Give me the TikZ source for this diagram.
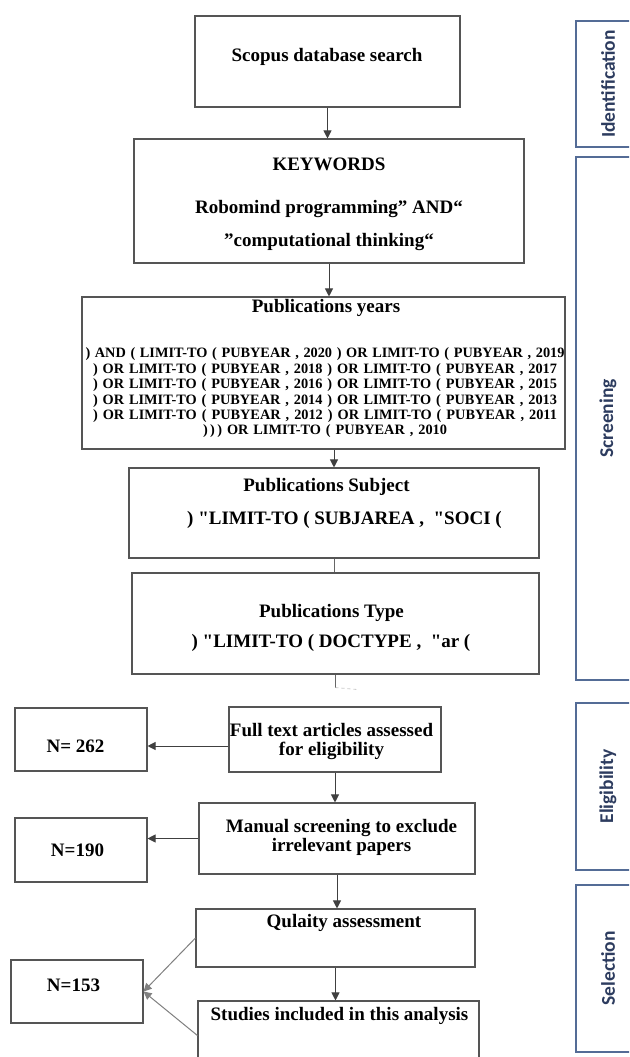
\documentclass[tikz,border=0pt]{standalone}
\usepackage{fontspec}
\setmainfont{Liberation Serif}
\newfontfamily\phasefont{Carlito}
\usepackage{tikz}
\usetikzlibrary{arrows.meta,positioning}

\definecolor{phaseblue}{RGB}{84,108,150}
\definecolor{phasetext}{RGB}{45,60,95}
\definecolor{boxgray}{RGB}{85,85,85}

% stretched query line
\newcommand{\qryline}[2]{\makebox[#1][s]{#2}}

\begin{document}
\begin{tikzpicture}[x=1pt,y=-1pt,
  box/.style={draw=boxgray,line width=1.1pt,inner sep=0pt},
  phase/.style={draw=phaseblue,line width=1.4pt,minimum width=64pt,inner sep=0pt},
  phaselbl/.style={rotate=90,text=phasetext,font=\fontsize{19.5}{21}\selectfont\phasefont\bfseries},
  txt/.style={font=\fontsize{19}{21}\selectfont\bfseries,align=center,inner sep=0pt},
  qry/.style={font=\fontsize{14.3}{15.4}\selectfont\bfseries,align=center,inner sep=0pt},
  arr/.style={draw=black!75,line width=1pt,-{Triangle[length=8pt,width=8pt]}},
  line/.style={draw=black!60,line width=1pt}]

  \useasboundingbox (0,0) rectangle (629,1057);
  \fill[white] (0,0) rectangle (629,1057);
  \clip (0,0) rectangle (629,1057);

  % phases on the right
  \node[phase,minimum height=126pt] (ident) at (608,84) {};
  \node[phase,minimum height=523pt] (screen) at (608,418.5) {};
  \node[phase,minimum height=167pt] (elig) at (608,786.5) {};
  \node[phase,minimum height=167pt] (select) at (608,968.5) {};
  \node[phaselbl] (identlbl) at (ident) {Identification};
  \node[phaselbl] (screenlbl) at (screen) {Screening};
  \node[phaselbl] (eliglbl) at (elig) {Eligibility};
  \node[phaselbl] (selectlbl) at (select) {Selection};

  % search boxes
  \node[box,minimum width=265pt,minimum height=91pt] (scopus) at (327.5,61.5) {};
  \node[box,minimum width=390pt,minimum height=124pt] (keywords) at (329,201) {};
  \node[box,minimum width=483pt,minimum height=152pt] (pubyears) at (323.5,373) {};
  \node[box,minimum width=410pt,minimum height=90pt] (subject) at (334,513) {};
  \node[box,minimum width=407pt,minimum height=101pt] (type) at (335.5,623.5) {};

  \node[txt] (scopustxt) at (327,57) {Scopus database search};
  \node[txt,font=\fontsize{19}{33}\selectfont\bfseries] (keytxt) at (329,204)
    {KEYWORDS\\[10pt]Robomind programming” AND“\\”computational thinking“};
  \node[txt] (pyhead) at (326,308) {Publications years};
  \node[qry] (pyquery) at (325,393) {%
    \qryline{479pt}{) AND ( LIMIT-TO ( PUBYEAR , 2020 ) OR LIMIT-TO ( PUBYEAR , 2019}\\
    \qryline{464pt}{) OR LIMIT-TO ( PUBYEAR , 2018 ) OR LIMIT-TO ( PUBYEAR , 2017}\\
    \qryline{464pt}{) OR LIMIT-TO ( PUBYEAR , 2016 ) OR LIMIT-TO ( PUBYEAR , 2015}\\
    \qryline{464pt}{) OR LIMIT-TO ( PUBYEAR , 2014 ) OR LIMIT-TO ( PUBYEAR , 2013}\\
    \qryline{464pt}{) OR LIMIT-TO ( PUBYEAR , 2012 ) OR LIMIT-TO ( PUBYEAR , 2011}\\
    \qryline{244pt}{)\,)\,) OR LIMIT-TO ( PUBYEAR , 2010}};
  \node[txt] (subjhead) at (326.5,487) {Publications Subject};
  \node[txt] (subjquery) at (344.5,520)
    {) \textquotedbl LIMIT-TO ( SUBJAREA , \ \textquotedbl SOCI (};
  \node[txt] (typehead) at (331.5,613) {Publications Type};
  \node[txt] (typequery) at (331,643)
    {) \textquotedbl LIMIT-TO ( DOCTYPE , \ \textquotedbl ar (};

  % eligibility and selection
  \node[box,minimum width=212pt,minimum height=65pt] (fulltext) at (335,739.5) {};
  \node[box,minimum width=132pt,minimum height=63pt] (n262) at (81,739.5) {};
  \node[box,minimum width=276pt,minimum height=71pt] (manual) at (337,838.5) {};
  \node[box,minimum width=132pt,minimum height=64pt] (n190) at (81,850) {};
  \node[box,minimum width=279pt,minimum height=58pt] (quality) at (335.5,938) {};
  \node[box,minimum width=281pt,minimum height=69pt] (studies) at (338.5,1035.5) {};
  \node[box,minimum width=132pt,minimum height=63pt] (n153) at (77,991.5) {};

  \node[txt,font=\fontsize{19}{19}\selectfont\bfseries] (fulltxt) at (331.5,741.5)
    {Full text articles assessed\\for eligibility};
  \node[txt] (n262txt) at (75.5,746) {N= 262};
  \node[txt,font=\fontsize{19}{19}\selectfont\bfseries] (manualtxt) at (341.5,837.5)
    {Manual screening to exclude\\irrelevant papers};
  \node[txt] (n190txt) at (77.5,850) {N=190};
  \node[txt] (qualtxt) at (344,923) {Qulaity assessment};
  \node[txt] (studtxt) at (339.5,1016) {Studies included in this analysis};
  \node[txt] (n153txt) at (73.5,985) {N=153};

  % connectors
  \draw[arr] (scopus.south) -- (scopus.south |- keywords.north);
  \draw[arr] (keywords.south) -- (keywords.south |- pubyears.north);
  \draw[arr] (subject.north |- pubyears.south) -- (subject.north);
  \draw[line] (subject.south) -- (subject.south |- type.north);
  \coordinate[below=13pt of type.south] (typeend);
  \draw[line] (type.south) -- (typeend);
  \draw[black!20,line width=0.8pt,dashed] (typeend) -- ++(22,2);
  \draw[arr] (fulltext.west |- n262txt) -- (n262.east |- n262txt);
  \draw[arr] (fulltext.south) -- (fulltext.south |- manual.north);
  \draw[arr] (manual.west) -- (manual.west -| n190.east);
  \draw[arr] (manual.south) -- (manual.south |- quality.north);
  \draw[arr] (quality.south) -- (quality.south |- studies.north);
  \draw[arr,draw=black!50] (quality.west) -- (n153.east);
  \draw[arr,draw=black!50] (studies.west) -- (n153.east);
\end{tikzpicture}
\end{document}
